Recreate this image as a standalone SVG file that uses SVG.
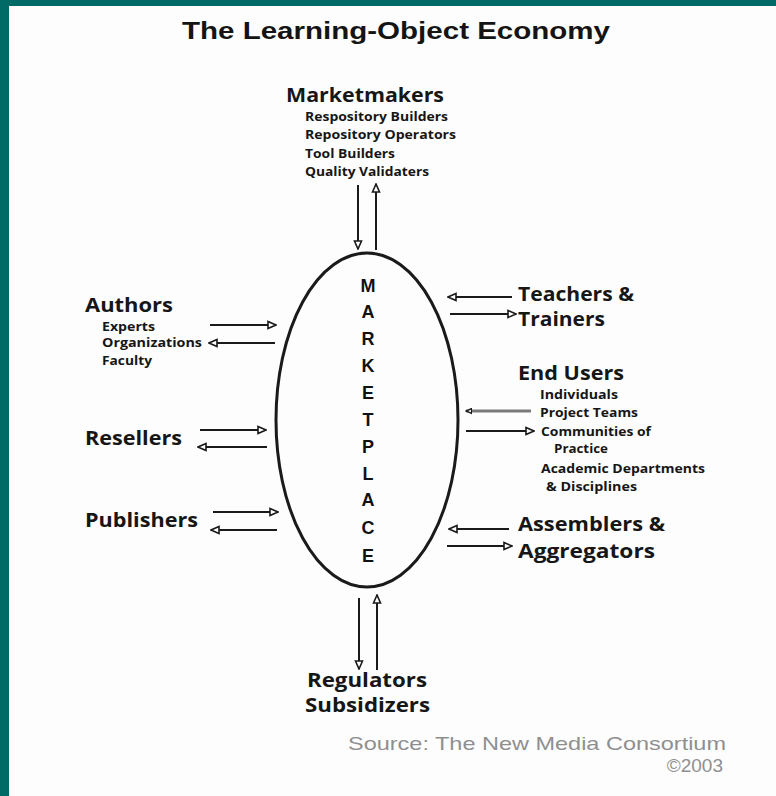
<svg xmlns="http://www.w3.org/2000/svg" width="776" height="796" viewBox="0 0 776 796">
  <style>
    .title { font-family: "Liberation Sans", Arial, sans-serif; font-weight: 700; font-size: 24px; fill: #141414; }
    .head { font-family: "Open Sans", "Liberation Sans", sans-serif; font-weight: 700; font-size: 20px; fill: #161616; }
    .sub { font-family: "Open Sans", "Liberation Sans", sans-serif; font-weight: 700; font-size: 12px; fill: #161616; }
    .mk { font-family: "Liberation Sans", Arial, sans-serif; font-weight: 700; font-size: 18px; fill: #111111; text-anchor: middle; }
    .src { font-family: "Liberation Sans", Arial, sans-serif; font-weight: 400; font-size: 19px; fill: #8f8f8f; }
    .flow { stroke: #1a1a1a; stroke-width: 2; fill: none; }
    .flow-grey { stroke: #7a7a7a; stroke-width: 3; fill: none; }
  </style>
  <defs>
    <marker id="head" viewBox="0 0 10 10" refX="9" refY="5" markerWidth="10" markerHeight="10" markerUnits="userSpaceOnUse" orient="auto">
      <path d="M1,1.5 L9,5 L1,8.5 Z" fill="#ffffff" stroke="#1a1a1a" stroke-width="1.6"/>
    </marker>
    <marker id="head-grey" viewBox="0 0 10 10" refX="9" refY="5" markerWidth="7" markerHeight="7" markerUnits="userSpaceOnUse" orient="auto">
      <path d="M1,1.5 L9,5 L1,8.5 Z" fill="#ffffff" stroke="#1a1a1a" stroke-width="2"/>
    </marker>
  </defs>

  <!-- page -->
  <rect x="0" y="0" width="776" height="796" fill="#006b66"/>
  <rect x="9" y="6" width="767" height="790" fill="#fdfdfd"/>

  <text class="title" x="182" y="39" textLength="428" lengthAdjust="spacingAndGlyphs">The Learning-Object Economy</text>

  <!-- connectors -->
  <g id="connectors">
    <!-- Marketmakers -->
    <line class="flow" x1="358" y1="185" x2="358" y2="249" marker-end="url(#head)"/>
    <line class="flow" x1="376" y1="250" x2="376" y2="184" marker-end="url(#head)"/>
    <!-- Authors -->
    <line class="flow" x1="210" y1="325" x2="276" y2="325" marker-end="url(#head)"/>
    <line class="flow" x1="275" y1="343" x2="209" y2="343" marker-end="url(#head)"/>
    <!-- Resellers -->
    <line class="flow" x1="200" y1="430" x2="266" y2="430" marker-end="url(#head)"/>
    <line class="flow" x1="267" y1="447" x2="198" y2="447" marker-end="url(#head)"/>
    <!-- Publishers -->
    <line class="flow" x1="213" y1="512" x2="278" y2="512" marker-end="url(#head)"/>
    <line class="flow" x1="277" y1="530" x2="211" y2="530" marker-end="url(#head)"/>
    <!-- Teachers & Trainers -->
    <line class="flow" x1="512" y1="297" x2="448" y2="297" marker-end="url(#head)"/>
    <line class="flow" x1="450" y1="314" x2="516" y2="314" marker-end="url(#head)"/>
    <!-- End Users -->
    <line class="flow-grey" x1="531" y1="411" x2="466" y2="411" marker-end="url(#head-grey)"/>
    <line class="flow" x1="466" y1="431" x2="534" y2="431" marker-end="url(#head)"/>
    <!-- Assemblers & Aggregators -->
    <line class="flow" x1="509" y1="529" x2="449" y2="529" stroke="#555" marker-end="url(#head)"/>
    <line class="flow" x1="447" y1="546" x2="512" y2="546" marker-end="url(#head)"/>
    <!-- Regulators -->
    <line class="flow" x1="359" y1="598" x2="359" y2="669" marker-end="url(#head)"/>
    <line class="flow" x1="377" y1="670" x2="377" y2="595" marker-end="url(#head)"/>
  </g>

  <!-- hub -->
  <g id="marketplace">
    <ellipse cx="367" cy="420" rx="91" ry="167" fill="none" stroke="#1a1a1a" stroke-width="3"/>
    <text class="mk" x="368" y="292">M</text>
    <text class="mk" x="368" y="318">A</text>
    <text class="mk" x="368" y="345">R</text>
    <text class="mk" x="368" y="372">K</text>
    <text class="mk" x="368" y="399">E</text>
    <text class="mk" x="368" y="426">T</text>
    <text class="mk" x="368" y="453">P</text>
    <text class="mk" x="368" y="480">L</text>
    <text class="mk" x="368" y="506">A</text>
    <text class="mk" x="368" y="534">C</text>
    <text class="mk" x="368" y="562">E</text>
  </g>

  <g id="marketmakers">
    <text class="head" x="286" y="102" textLength="158" lengthAdjust="spacingAndGlyphs">Marketmakers</text>
    <text class="sub" x="305" y="121" textLength="143" lengthAdjust="spacingAndGlyphs">Respository Builders</text>
    <text class="sub" x="305" y="139" textLength="151" lengthAdjust="spacingAndGlyphs">Repository Operators</text>
    <text class="sub" x="305" y="158" textLength="90" lengthAdjust="spacingAndGlyphs">Tool Builders</text>
    <text class="sub" x="305" y="176" textLength="124" lengthAdjust="spacingAndGlyphs">Quality Validaters</text>
  </g>

  <g id="authors">
    <text class="head" x="85" y="312" textLength="88" lengthAdjust="spacingAndGlyphs">Authors</text>
    <text class="sub" x="102" y="331" textLength="53" lengthAdjust="spacingAndGlyphs">Experts</text>
    <text class="sub" x="102" y="347" textLength="100" lengthAdjust="spacingAndGlyphs">Organizations</text>
    <text class="sub" x="102" y="365" textLength="50" lengthAdjust="spacingAndGlyphs">Faculty</text>
  </g>

  <g id="resellers">
    <text class="head" x="85" y="445" textLength="97" lengthAdjust="spacingAndGlyphs">Resellers</text>
  </g>

  <g id="publishers">
    <text class="head" x="85" y="527" textLength="113" lengthAdjust="spacingAndGlyphs">Publishers</text>
  </g>

  <g id="teachers">
    <text class="head" x="518" y="301" textLength="116" lengthAdjust="spacingAndGlyphs">Teachers &amp;</text>
    <text class="head" x="518" y="326" textLength="87" lengthAdjust="spacingAndGlyphs">Trainers</text>
  </g>

  <g id="end-users">
    <text class="head" x="518" y="380" textLength="106" lengthAdjust="spacingAndGlyphs">End Users</text>
    <text class="sub" x="540" y="399" textLength="78" lengthAdjust="spacingAndGlyphs">Individuals</text>
    <text class="sub" x="540" y="417" textLength="98" lengthAdjust="spacingAndGlyphs">Project Teams</text>
    <text class="sub" x="541" y="436" textLength="110" lengthAdjust="spacingAndGlyphs">Communities of</text>
    <text class="sub" x="554" y="453" textLength="54" lengthAdjust="spacingAndGlyphs">Practice</text>
    <text class="sub" x="541" y="473" textLength="164" lengthAdjust="spacingAndGlyphs">Academic Departments</text>
    <text class="sub" x="546" y="491" textLength="91" lengthAdjust="spacingAndGlyphs">&amp; Disciplines</text>
  </g>

  <g id="assemblers">
    <text class="head" x="518" y="531" textLength="147" lengthAdjust="spacingAndGlyphs">Assemblers &amp;</text>
    <text class="head" x="518" y="558" textLength="137" lengthAdjust="spacingAndGlyphs">Aggregators</text>
  </g>

  <g id="regulators">
    <text class="head" x="307" y="687" textLength="120" lengthAdjust="spacingAndGlyphs">Regulators</text>
    <text class="head" x="305" y="712" textLength="125" lengthAdjust="spacingAndGlyphs">Subsidizers</text>
  </g>

  <text class="src" x="348" y="750" textLength="378" lengthAdjust="spacingAndGlyphs">Source: The New Media Consortium</text>
  <text class="src" x="723" y="772" text-anchor="end">©2003</text>
</svg>
